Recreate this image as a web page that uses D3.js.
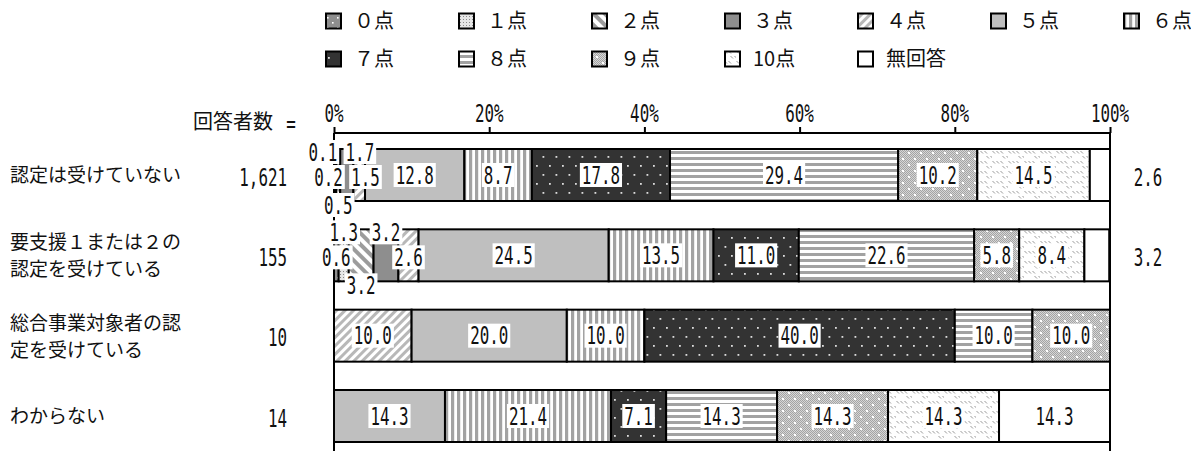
<!DOCTYPE html>
<html><head><meta charset="utf-8">
<script src="https://cdn.jsdelivr.net/npm/d3@7"></script>
<style>body{margin:0;background:#fff} svg{display:block}</style>
</head><body><svg id="c" width="1191" height="451"></svg>
<script>
// ---------------- data ----------------
const categories = ["認定は受けていない", "要支援１または２の\n認定を受けている", "総合事業対象者の認\n定を受けている", "わからない"];
const sampleSizes = ["1,621", "155", "10", "14"];
const seriesNames = ["０点","１点","２点","３点","４点","５点","６点","７点","８点","９点","10点","無回答"];
const valsNotCertified = [0.2, 0.1, 0.5, 1.7, 1.5, 12.8, 8.7, 17.8, 29.4, 10.2, 14.5, 2.6];
const valsSupport12    = [0.6, 1.3, 3.2, 3.2, 2.6, 24.5, 13.5, 11.0, 22.6, 5.8, 8.4, 3.2];
const valsGeneral      = [0, 0, 0, 0, 10.0, 20.0, 10.0, 40.0, 10.0, 10.0, 0, 0];
const valsUnknown      = [0, 0, 0, 0, 0, 14.3, 21.4, 7.1, 14.3, 14.3, 14.3, 14.3];
const tickValues = [0, 20, 40, 60, 80, 100];

const allVals = [valsNotCertified, valsSupport12, valsGeneral, valsUnknown];

// ---------------- setup ----------------
const svg = d3.select("#c");
const JP = "'Noto Sans CJK JP', sans-serif";
const NUM = "'DejaVu Sans Mono', monospace";
const NUM_SIZE = 24, NUM_SX = 0.66;

const x = d3.scaleLinear().domain([0, 100]).range([334, 1110]);
const y = d3.scalePoint().domain(categories).range([175, 416]);
const barH = 52;

const keys = seriesNames.map((d, i) => i);
const table = categories.map((c, ci) => {
  const o = {cat: c};
  keys.forEach(k => o[k] = allVals[ci][k]);
  return o;
});
const stacked = d3.stack().keys(keys)(table);

// ---------------- patterns ----------------
const defs = svg.append("defs");
function pat(id, w, h, draw, tr) {
  const p = defs.append("pattern").attr("id", id).attr("patternUnits", "userSpaceOnUse")
    .attr("width", w).attr("height", h);
  if (tr) p.attr("patternTransform", tr);
  draw(p);
}
const R = (p, a) => { const r = p.append("rect"); Object.entries(a).forEach(([k, v]) => r.attr(k, v)); return r; };

pat("p0", 10, 10, p => { R(p,{width:10,height:10,fill:"#8e8e8e"}); R(p,{x:2,y:2,width:1.6,height:1.6,fill:"#fff"}); R(p,{x:7,y:7,width:1.6,height:1.6,fill:"#fff"}); });
pat("p1", 3, 3, p => { R(p,{width:3,height:3,fill:"#e6e6e6"}); R(p,{x:1,y:1,width:1,height:1,fill:"#8a8a8a"}); });
pat("p2", 8, 8, p => { R(p,{width:8,height:8,fill:"#fff"}); R(p,{width:4,height:8,fill:"#9c9c9c"}); }, "rotate(-45)");
pat("p4", 6, 6, p => { R(p,{width:6,height:6,fill:"#fff"}); R(p,{width:3,height:6,fill:"#b8b8b8"}); }, "rotate(45)");
pat("p6", 6, 6, p => { R(p,{width:6,height:6,fill:"#fff"}); R(p,{x:1,width:3.2,height:6,fill:"#a2a2a2"}); });
pat("p7", 13, 18, p => { R(p,{width:13,height:18,fill:"#333"}); R(p,{x:3,y:3,width:1.8,height:1.8,fill:"#ddd"}); R(p,{x:9.5,y:12,width:1.8,height:1.8,fill:"#ddd"}); });
pat("p8", 6, 6, p => { R(p,{width:6,height:6,fill:"#fff"}); R(p,{y:1,width:6,height:3,fill:"#a2a2a2"}); });
pat("chk", 2, 2, p => { R(p,{width:2,height:2,fill:"#d6d6d6"}); R(p,{width:1,height:1,fill:"#a4a4a4"}); R(p,{x:1,y:1,width:1,height:1,fill:"#a4a4a4"}); });
pat("p9", 12, 12, p => { R(p,{width:12,height:12,fill:"url(#chk)"}); R(p,{x:2,y:2,width:2,height:2,fill:"#fff"}); R(p,{x:8,y:8,width:2,height:2,fill:"#fff"}); });
pat("p10", 16, 10, p => {
  R(p,{width:16,height:10,fill:"#fff"});
  [0,4,8].forEach(xx => p.append("line").attr("x1",xx+0.5).attr("y1",1).attr("x2",xx+3).attr("y2",3.5).attr("stroke","#999").attr("stroke-width",1));
  [10,14].forEach(xx => p.append("line").attr("x1",xx+0.5).attr("y1",6).attr("x2",xx+3).attr("y2",8.5).attr("stroke","#999").attr("stroke-width",1));
});
const fills = ["url(#p0)","url(#p1)","url(#p2)","#8e8e8e","url(#p4)","#bfbfbf","url(#p6)","url(#p7)","url(#p8)","url(#p9)","url(#p10)","#fff"];

// ---------------- number text helper ----------------
function numText(parent, tx, ty, str, bg, anchor) {
  const g = parent.append("g").attr("transform", `translate(${tx},${ty})`);
  const r = bg ? g.append("rect").attr("fill", "#fff") : null;
  const t = g.append("text").attr("transform", `scale(${NUM_SX},1)`)
    .attr("font-family", NUM).attr("font-size", NUM_SIZE).attr("fill", "#111")
    .attr("text-anchor", anchor || "middle").attr("dy", "0.36em").text(str);
  const w = t.node().getComputedTextLength() * NUM_SX;
  if (r) r.attr("x", -w / 2 - 2).attr("y", -12).attr("width", w + 4).attr("height", 24);
  return w;
}

// ---------------- legend ----------------
const legend = svg.append("g");
seriesNames.forEach((name, i) => {
  const col = i % 7, row = Math.floor(i / 7);
  const lx = 326 + col * 133, ly = 21 + row * 38;
  legend.append("rect").attr("x", lx).attr("y", ly - 7.5).attr("width", 15).attr("height", 15)
    .attr("fill", fills[i]).attr("stroke", "#000").attr("stroke-width", 2);
  legend.append("text").attr("x", lx + 28).attr("y", ly).attr("dy", "0.36em")
    .attr("font-family", JP).attr("font-size", 20).attr("fill", "#111").text(name);
});

// ---------------- axis ----------------
const axisY = 133;
const axisG = svg.append("g").attr("transform", `translate(0,${axisY})`)
  .call(d3.axisTop(x).tickValues(tickValues).tickSize(6).tickFormat(() => ""));
axisG.select(".domain").attr("stroke", "#000").attr("stroke-width", 2).attr("d", `M${x(0)},0H${x(100)}`);
axisG.selectAll(".tick line").attr("stroke", "#000").attr("stroke-width", 2);
tickValues.forEach(v => numText(svg, x(v), 113, v + "%", false));

svg.append("text").attr("x", 193).attr("y", 122).attr("dy", "0.36em")
  .attr("font-family", JP).attr("font-size", 20).attr("fill", "#111").text("回答者数");
numText(svg, 291, 123, "=", false);

// vertical frame lines
[0, 100].forEach(v => svg.append("line").attr("x1", x(v)).attr("x2", x(v)).attr("y1", axisY).attr("y2", 451)
  .attr("stroke", "#000").attr("stroke-width", 2));

// ---------------- category labels ----------------
categories.forEach((c, ci) => {
  const lines = c.split("\n");
  const cy = y(c);
  lines.forEach((ln, li) => {
    const off = lines.length === 1 ? 0 : (li === 0 ? -13 : 14);
    svg.append("text").attr("font-family", JP).attr("font-size", 19).attr("fill", "#111")
      .attr("x", 10).attr("y", cy + off).attr("dy", "0.36em").text(ln);
  });
  const g = svg.append("g").attr("transform", `translate(287,${cy + 2})`);
  g.append("text").attr("transform", `scale(${NUM_SX},1)`).attr("font-family", NUM).attr("font-size", NUM_SIZE)
    .attr("fill", "#111").attr("text-anchor", "end").attr("dy", "0.36em").text(sampleSizes[ci]);
});

// ---------------- bars ----------------
const bars = svg.append("g");
stacked.forEach((layer, k) => {
  layer.forEach((d, ci) => {
    if (d[1] - d[0] <= 0) return;
    bars.append("rect").attr("x", x(d[0])).attr("y", y(categories[ci]) - barH / 2)
      .attr("width", x(d[1]) - x(d[0])).attr("height", barH)
      .attr("fill", fills[k]).attr("stroke", "#000").attr("stroke-width", 2);
  });
});

// ---------------- value labels ----------------
const laneOrder = ["mid", "top", "bot", "top", "mid"];
const labelsG = svg.append("g");
categories.forEach((c, ci) => {
  const cy = y(c);
  const lanes = {top: [], mid: [], bot: []};
  keys.forEach(k => {
    const v = allVals[ci][k];
    if (!(v > 0)) return;
    const d = stacked[k][ci];
    const cx = (x(d[0]) + x(d[1])) / 2;
    const str = v.toFixed(1);
    if (v >= 4) { numText(labelsG, cx, cy, str, true); return; }
    if (k === keys.length - 1) { numText(labelsG, x(100) + 38, cy + 2, str, false); return; }
    lanes[laneOrder[k] || "mid"].push({cx, seg: cx, str});
  });
  const laneY = {top: cy - barH / 2 + 3, mid: cy + 2, bot: cy + barH / 2 + 4};
  Object.entries(lanes).forEach(([ln, arr]) => {
    arr.sort((a, b) => a.cx - b.cx);
    const w = 33, gap = 4;
    for (let it = 0; it < 20; it++) {
      for (let i = 1; i < arr.length; i++) {
        const need = w + gap - (arr[i].cx - arr[i - 1].cx);
        if (need > 0) { arr[i].cx += need / 2; arr[i - 1].cx -= need / 2; }
      }
    }
    arr.forEach(a => numText(labelsG, a.cx, laneY[ln], a.str, true));
  });
});
</script></body></html>
